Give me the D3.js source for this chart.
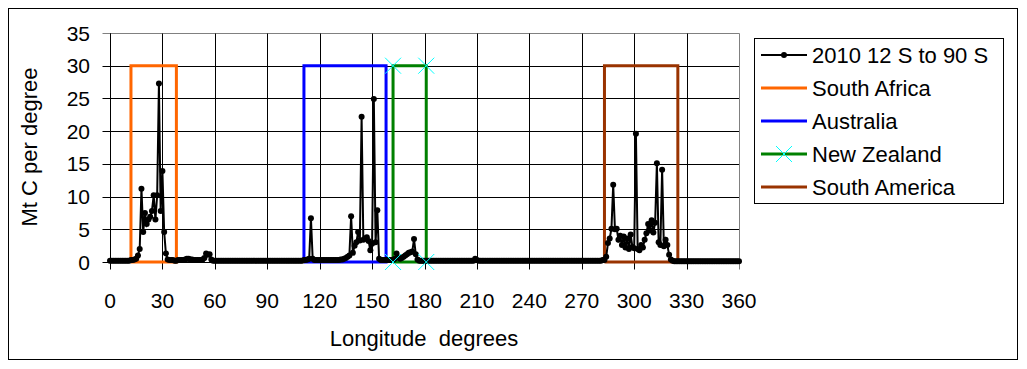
<!DOCTYPE html>
<html lang="en">
<head>
	<meta charset="UTF-8">
	<title>Mt C per degree</title>
	<style>
		body { margin: 0; background: #fff; }
		text { font-family: "Liberation Sans", Arial, sans-serif; fill: #000; }
	</style>
</head>
<body>

	<script src="https://d3js.org/d3.v7.min.js" charset="utf-8"></script>

	<script type="text/javascript">

		var width = 1027,
			height = 369;

		// 2010, 12 S to 90 S, one value per degree from 0 to 360
		var emissions = [
			0.2, 0.2, 0.2, 0.2, 0.2, 0.2, 0.2, 0.2, 0.2, 0.2,
			0.2, 0.2, 0.3, 0.3, 0.4, 0.5, 1.0, 2.0, 11.2, 4.6,
			7.5, 5.8, 6.5, 6.9, 7.8, 10.2, 6.5, 10.2, 27.3, 7.8,
			13.9, 4.6, 1.3, 0.4, 0.3, 0.3, 0.3, 0.2, 0.2, 0.3,
			0.3, 0.3, 0.3, 0.4, 0.5, 0.5, 0.4, 0.4, 0.3, 0.3,
			0.3, 0.3, 0.3, 0.4, 0.6, 1.3, 1.1, 1.2, 0.4, 0.2,
			0.2, 0.2, 0.2, 0.2, 0.2, 0.2, 0.2, 0.2, 0.2, 0.2,
			0.2, 0.2, 0.2, 0.2, 0.2, 0.2, 0.2, 0.2, 0.2, 0.2,
			0.2, 0.2, 0.2, 0.2, 0.2, 0.2, 0.2, 0.2, 0.2, 0.2,
			0.2, 0.2, 0.2, 0.2, 0.2, 0.2, 0.2, 0.2, 0.2, 0.2,
			0.2, 0.2, 0.2, 0.2, 0.2, 0.2, 0.2, 0.2, 0.2, 0.2,
			0.2, 0.3, 0.3, 0.4, 0.5, 6.7, 0.5, 0.3, 0.3, 0.3,
			0.3, 0.3, 0.3, 0.3, 0.3, 0.3, 0.3, 0.3, 0.3, 0.3,
			0.3, 0.3, 0.4, 0.4, 0.5, 0.6, 0.8, 1.0, 7.0, 1.4,
			2.5, 3.0, 4.6, 3.3, 22.2, 3.4, 3.6, 3.8, 3.2, 1.8,
			2.8, 24.9, 3.0, 7.9, 0.5, 0.3, 0.3, 0.3, 0.3, 0.3,
			0.3, 0.3, 0.3, 0.5, 1.3, 0.7, 0.5, 0.6, 0.8, 1.0,
			1.2, 1.4, 1.5, 1.6, 3.5, 1.2, 0.4, 0.2, 0.2, 0.2,
			0.2, 0.2, 0.2, 0.2, 0.2, 0.2, 0.2, 0.2, 0.2, 0.2,
			0.2, 0.2, 0.2, 0.2, 0.2, 0.2, 0.2, 0.2, 0.2, 0.2,
			0.2, 0.2, 0.2, 0.2, 0.2, 0.2, 0.2, 0.2, 0.2, 0.5,
			0.3, 0.2, 0.2, 0.2, 0.2, 0.2, 0.2, 0.2, 0.2, 0.2,
			0.2, 0.2, 0.2, 0.2, 0.2, 0.2, 0.2, 0.2, 0.2, 0.2,
			0.2, 0.2, 0.2, 0.2, 0.2, 0.2, 0.2, 0.2, 0.2, 0.2,
			0.2, 0.2, 0.2, 0.2, 0.2, 0.2, 0.2, 0.2, 0.2, 0.2,
			0.2, 0.2, 0.2, 0.2, 0.2, 0.2, 0.2, 0.2, 0.2, 0.2,
			0.2, 0.2, 0.2, 0.2, 0.2, 0.2, 0.2, 0.2, 0.2, 0.2,
			0.2, 0.2, 0.2, 0.2, 0.2, 0.2, 0.2, 0.2, 0.2, 0.2,
			0.2, 0.2, 0.3, 0.3, 0.8, 2.9, 3.6, 5.1, 11.8, 5.0,
			5.1, 3.4, 4.0, 2.6, 3.9, 2.2, 3.6, 2.0, 4.2, 2.3,
			2.1, 19.6, 2.0, 1.8, 2.6, 2.2, 3.4, 4.4, 5.8, 4.8,
			6.4, 4.5, 6.0, 15.1, 3.0, 2.6, 14.1, 2.4, 3.4, 2.6,
			1.1, 0.4, 0.2, 0.1, 0.1, 0.1, 0.1, 0.1, 0.1, 0.1,
			0.1, 0.1, 0.1, 0.1, 0.1, 0.1, 0.1, 0.1, 0.1, 0.1,
			0.1, 0.1, 0.1, 0.1, 0.1, 0.1, 0.1, 0.1, 0.1, 0.1,
			0.1, 0.1, 0.1, 0.1, 0.1, 0.1, 0.1, 0.1, 0.1, 0.1,
			0.1
		];

		// region outlines, drawn as closed boxes
		var regionNames = [ "South Africa", "Australia", "New Zealand", "South America" ];
		var regionLon = [
			[ 12, 12, 38, 38, 12 ],
			[ 111, 111, 158, 158, 111 ],
			[ 162, 162, 181, 181, 162 ],
			[ 283, 283, 325, 325, 283 ]
		];
		var regionValue = [ 0, 30, 30, 0, 0 ];
		var regionColors = [ "#ff6600", "#0000ff", "#008000", "#993300" ];

		var xTicks = [ 0, 30, 60, 90, 120, 150, 180, 210, 240, 270, 300, 330, 360 ];
		var yTicks = [ 0, 5, 10, 15, 20, 25, 30, 35 ];

		var seriesName = "2010 12 S to 90 S";


		var svg = d3.select( "body" )
					.append( "svg" )
					.attr( "width", width )
					.attr( "height", height )
					.style( "display", "block" );

		svg.append( "rect" )
			.attr( "width", width )
			.attr( "height", height )
			.attr( "fill", "#fff" );

		// chart frame
		svg.append( "rect" )
			.attr( "x", 8.5 )
			.attr( "y", 8.5 )
			.attr( "width", 1009 )
			.attr( "height", 351 )
			.attr( "fill", "none" )
			.attr( "stroke", "#000" );

		var x = d3.scaleLinear().domain( [ 0, 360 ] ).range( [ 110, 739 ] ),
			y = d3.scaleLinear().domain( [ 0, 35 ] ).range( [ 262, 33 ] );

		var plotLeft = Math.round( x( 0 ) ) + 0.5, plotRight = Math.round( x( 360 ) ) + 0.5,
			plotTop = Math.round( y( 35 ) ) + 0.5, plotBottom = Math.round( y( 0 ) ) + 0.5;

		// layers, so the grid can be built last but still sit under the data
		var gridLayer = svg.append( "g" ),
			dataLayer = svg.append( "g" ),
			textLayer = svg.append( "g" );

		// tick labels
		textLayer.append( "g" )
			.selectAll( "text" )
			.data( xTicks )
			.join( "text" )
			.attr( "x", d => x( d ) )
			.attr( "y", 308 )
			.attr( "text-anchor", "middle" )
			.attr( "font-size", 21 )
			.text( d => d );

		textLayer.append( "g" )
			.selectAll( "text" )
			.data( yTicks )
			.join( "text" )
			.attr( "x", 90 )
			.attr( "y", d => y( d ) + 7.5 )
			.attr( "text-anchor", "end" )
			.attr( "font-size", 21 )
			.text( d => d );

		// axis titles
		textLayer.append( "text" )
			.attr( "x", 424 )
			.attr( "y", 346 )
			.attr( "text-anchor", "middle" )
			.attr( "font-size", 22 )
			.attr( "xml:space", "preserve" )
			.style( "white-space", "pre" )
			.text( "Longitude  degrees" );

		textLayer.append( "text" )
			.attr( "transform", "translate(37,147) rotate(-90)" )
			.attr( "text-anchor", "middle" )
			.attr( "font-size", 22 )
			.text( "Mt C per degree" );

		// region boxes
		var seriesLine = d3.line()
			.x( d => x( d[ 0 ] ) )
			.y( d => y( d[ 1 ] ) );

		regionLon.forEach( function( lons, i ) {
			dataLayer.append( "path" )
				.datum( lons.map( ( lon, j ) => [ lon, regionValue[ j ] ] ) )
				.attr( "d", seriesLine )
				.attr( "fill", "none" )
				.attr( "stroke", regionColors[ i ] )
				.attr( "stroke-width", 3 );
		} );

		// emissions series
		var points = emissions.map( ( v, i ) => [ i, v ] );

		dataLayer.append( "path" )
			.datum( points )
			.attr( "d", seriesLine )
			.attr( "fill", "none" )
			.attr( "stroke", "#000" )
			.attr( "stroke-width", 2 );

		dataLayer.append( "g" )
			.selectAll( "circle" )
			.data( points )
			.join( "circle" )
			.attr( "cx", d => x( d[ 0 ] ) )
			.attr( "cy", d => y( d[ 1 ] ) )
			.attr( "r", 3 )
			.attr( "fill", "#000" );

		// NZ markers sit on top of everything
		var nzPoints = regionLon[ 2 ].slice( 0, 4 ).map( ( lon, j ) => [ lon, regionValue[ j ] ] );

		function crossPath( cx, cy, s ) {
			return "M" + ( cx - s ) + "," + ( cy - s ) + "L" + ( cx + s ) + "," + ( cy + s ) +
				"M" + ( cx - s ) + "," + ( cy + s ) + "L" + ( cx + s ) + "," + ( cy - s );
		}

		dataLayer.append( "g" )
			.selectAll( "path" )
			.data( nzPoints )
			.join( "path" )
			.attr( "d", d => crossPath( x( d[ 0 ] ), y( d[ 1 ] ), 8 ) )
			.attr( "fill", "none" )
			.attr( "stroke", "#00ffff" )
			.attr( "stroke-width", 1 );

		// grid and axes, one line element each
		function rule( color, x1, y1, x2, y2 ) {
			gridLayer.append( "line" )
				.attr( "x1", x1 ).attr( "y1", y1 )
				.attr( "x2", x2 ).attr( "y2", y2 )
				.style( "stroke", color )
				.style( "stroke-width", "1px" );
		}

		yTicks.forEach( function( t ) {
			var yy = Math.round( y( t ) ) + 0.5;
			rule( t === 35 ? "#808080" : "#000000", plotLeft - 8, yy, plotRight, yy );
		} );
		xTicks.forEach( function( t ) {
			var xx = Math.round( x( t ) ) + 0.5;
			rule( t === 360 ? "#808080" : "#000000", xx, plotTop, xx, plotBottom + 7 );
		} );
		rule( "#000000", plotLeft, plotTop, plotLeft, plotBottom );

		// legend
		var legend = svg.append( "g" );

		legend.append( "rect" )
			.attr( "x", 754.5 )
			.attr( "y", 38.5 )
			.attr( "width", 249 )
			.attr( "height", 165 )
			.attr( "fill", "#fff" )
			.attr( "stroke", "#000" );

		var legendNames = [ seriesName ].concat( regionNames ),
			legendColors = [ "#000" ].concat( regionColors );

		legendNames.forEach( function( name, i ) {
			var rowY = 55 + i * 33;

			legend.append( "path" )
				.attr( "d", "M761," + rowY + "H807" )
				.attr( "stroke", legendColors[ i ] )
				.attr( "stroke-width", i === 0 ? 2 : 3 );

			if( i === 0 ) {
				legend.append( "circle" )
					.attr( "cx", 784 )
					.attr( "cy", rowY )
					.attr( "r", 3 )
					.attr( "fill", "#000" );
			}
			if( name === "New Zealand" ) {
				legend.append( "path" )
					.attr( "d", crossPath( 784, rowY, 8 ) )
					.attr( "fill", "none" )
					.attr( "stroke", "#00ffff" )
					.attr( "stroke-width", 1 );
			}

			legend.append( "text" )
				.attr( "x", 812 )
				.attr( "y", rowY + 8 )
				.attr( "font-size", 22 )
				.text( name );
		} );

	</script>
</body>
</html>
